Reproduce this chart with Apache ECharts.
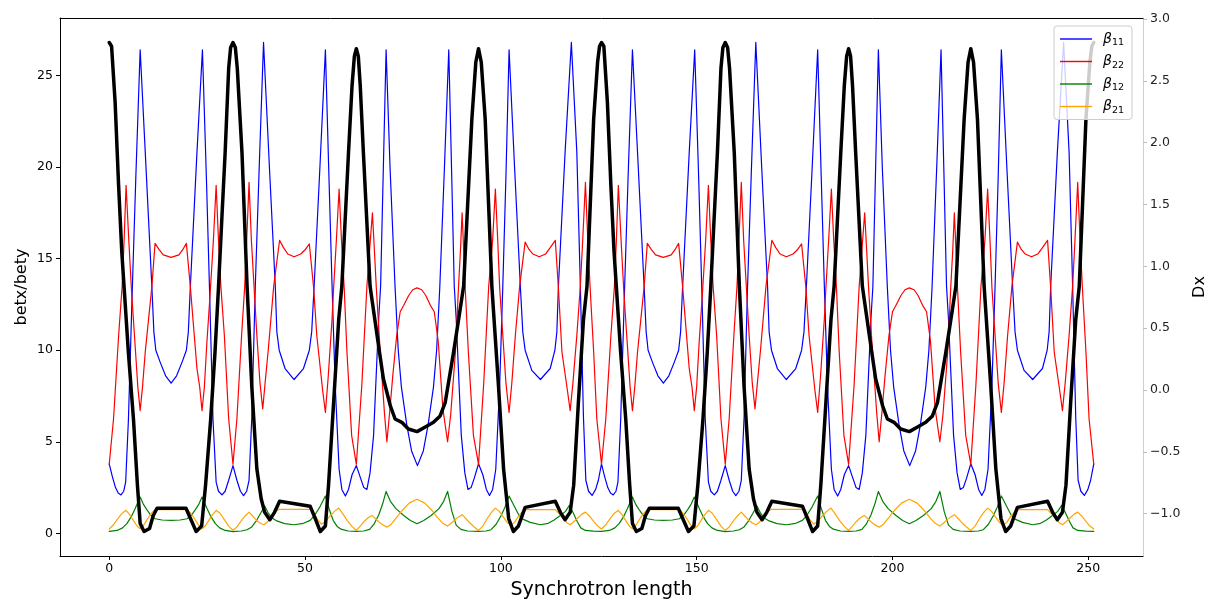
<!DOCTYPE html>
<html>
<head>
<meta charset="utf-8">
<script src="https://cdn.jsdelivr.net/npm/echarts@6/dist/echarts.min.js"></script>
<style>html,body{margin:0;padding:0;background:#fff}#c{width:1207px;height:599px}</style>
</head>
<body>
<div id="c"></div>
<script>
const xTicks = [0, 50, 100, 150, 200, 250];
const yLeftTicks = [0, 5, 10, 15, 20, 25];
const yRightTicks = [-1.0, -0.5, 0.0, 0.5, 1.0, 1.5, 2.0, 2.5, 3.0];
const seriesNames = ['β11', 'β22', 'β12', 'β21'];

const beta11 = [[0,3.8],[0.8,3.1],[1.6,2.5],[2.3,2.2],[3.0,2.1],[3.7,2.3],[4.2,2.8],[4.9,6.2],[5.9,13.4],[6.8,19.5],[7.9,26.4],[9.2,20.8],[10.9,13.4],[11.4,11.0],[11.9,10.0],[13.0,9.35],[14.4,8.6],[15.8,8.2],[17.2,8.6],[18.6,9.35],[19.7,10.0],[20.2,11.0],[20.7,13.4],[22.4,20.8],[23.8,26.4],[24.8,19.5],[25.6,13.4],[26.5,6.2],[27.3,2.8],[27.9,2.3],[28.8,2.1],[29.6,2.3],[30.5,2.9],[31.6,3.7],[32.6,2.9],[33.5,2.3],[34.3,2.06],[35.1,2.3],[35.7,2.9],[36.4,6.3],[37.3,13.5],[38.3,20.0],[39.4,26.8],[40.9,20.0],[42.4,13.5],[42.8,11.0],[43.4,10.0],[44.9,9.0],[47.2,8.4],[49.6,9.0],[51.1,10.0],[51.7,11.0],[52.3,13.4],[53.8,20.0],[55.2,26.4],[56.1,19.5],[56.9,13.5],[57.7,8.1],[58.7,3.5],[59.4,2.4],[60.3,2.04],[61.1,2.4],[62.0,3.2],[63.1,3.7],[64.2,3.0],[65.0,2.5],[65.8,2.4],[66.6,3.3],[67.5,5.35],[68.8,11.7],[69.3,13.5],[70.0,20.0],[70.7,26.4],[71.7,20.0],[73.0,13.4],[73.8,10.0],[74.6,8.0],[76.0,5.9],[77.2,4.5],[78.7,3.7],[80.2,4.5],[81.4,5.9],[82.8,8.0],[83.6,10.0],[84.4,13.4],[85.6,20.0],[86.7,26.4],[87.4,20.0],[88.1,13.5],[88.6,11.7],[89.9,5.35],[90.8,3.3],[91.6,2.4],[92.4,2.5],[93.2,3.0],[94.3,3.8],[95.4,3.2],[96.3,2.4],[97.1,2.07],[97.9,2.4],[98.7,3.5],[99.7,8.1],[100.5,13.5],[101.3,19.5],[102.1,26.4],[103.5,20.0],[105.0,13.4],[105.6,11.0],[106.2,10.0],[107.9,8.9],[110.1,8.4],[112.6,9.0],[113.8,10.0],[114.3,11.0],[114.7,13.5],[116.4,20.8],[118.0,26.8],[119.4,20.8],[120.3,13.5],[121.1,6.3],[121.7,2.9],[122.4,2.3],[123.3,2.07],[124.2,2.4],[124.9,2.9],[125.7,3.8],
[126.5,3.1],[127.3,2.5],[128.0,2.2],[128.7,2.1],[129.4,2.3],[129.9,2.8],[130.6,6.2],[131.6,13.4],[132.5,19.5],[133.6,26.4],[134.9,20.8],[136.6,13.4],[137.1,11.0],[137.6,10.0],[138.7,9.35],[140.1,8.6],[141.5,8.2],[142.9,8.6],[144.3,9.35],[145.4,10.0],[145.9,11.0],[146.4,13.4],[148.1,20.8],[149.5,26.4],[150.5,19.5],[151.3,13.4],[152.2,6.2],[153.0,2.8],[153.6,2.3],[154.5,2.1],[155.3,2.3],[156.2,2.9],[157.3,3.7],[158.3,2.9],[159.2,2.3],[160.0,2.06],[160.8,2.3],[161.4,2.9],[162.1,6.3],[163.0,13.5],[164.0,20.0],[165.1,26.8],[166.6,20.0],[168.1,13.5],[168.5,11.0],[169.1,10.0],[170.6,9.0],[172.9,8.4],[175.3,9.0],[176.8,10.0],[177.4,11.0],[178.0,13.4],[179.5,20.0],[180.9,26.4],[181.8,19.5],[182.6,13.5],[183.4,8.1],[184.4,3.5],[185.1,2.4],[186.0,2.04],[186.8,2.4],[187.7,3.2],[188.8,3.7],[189.9,3.0],[190.7,2.5],[191.5,2.4],[192.3,3.3],[193.2,5.35],[194.5,11.7],[195.0,13.5],[195.7,20.0],[196.4,26.4],[197.4,20.0],[198.7,13.4],[199.5,10.0],[200.3,8.0],[201.7,5.9],[202.9,4.5],[204.4,3.7],[205.9,4.5],[207.1,5.9],[208.5,8.0],[209.3,10.0],[210.1,13.4],[211.3,20.0],[212.4,26.4],[213.1,20.0],[213.8,13.5],[214.3,11.7],[215.6,5.35],[216.5,3.3],[217.3,2.4],[218.1,2.5],[218.9,3.0],[220.0,3.8],[221.1,3.2],[222.0,2.4],[222.8,2.07],[223.6,2.4],[224.4,3.5],[225.4,8.1],[226.2,13.5],[227.0,19.5],[227.8,26.4],[229.2,20.0],[230.7,13.4],[231.3,11.0],[231.9,10.0],[233.6,8.9],[235.8,8.4],[238.3,9.0],[239.5,10.0],[240.0,11.0],[240.4,13.5],[242.1,20.8],[243.7,26.8],[245.1,20.8],[246.0,13.5],[246.8,6.3],[247.4,2.9],[248.1,2.3],[249.0,2.07],[249.9,2.4],[250.6,2.9],[251.4,3.8]];

const beta22 = [[0,3.77],[1.1,6.26],[2.4,10.8],[3.3,13.5],[3.8,16.0],[4.3,19.0],[5.0,16.0],[5.7,13.2],[6.6,10.3],[7.3,8.0],[7.9,6.7],[8.5,8.0],[9.2,9.9],[10.9,13.5],[11.7,15.83],[12.7,15.5],[13.8,15.2],[15.8,15.07],[17.8,15.2],[18.8,15.5],[19.7,15.83],[20.7,13.5],[22.4,9.0],[23.1,8.0],[23.7,6.7],[24.3,8.0],[24.9,10.3],[25.8,13.2],[26.6,16.0],[27.3,19.0],[27.9,16.0],[28.5,13.5],[29.4,10.8],[30.5,6.26],[31.6,3.77],[32.6,6.26],[33.8,10.8],[34.6,13.5],[35.1,16.0],[35.7,19.16],[36.3,16.0],[37.0,13.4],[37.7,10.8],[38.5,8.2],[39.2,6.8],[39.8,8.2],[40.6,10.0],[42.0,13.5],[43.5,16.0],[44.5,15.6],[45.6,15.25],[47.2,15.1],[48.9,15.25],[50.1,15.5],[51.1,15.8],[52.2,13.4],[53.0,10.8],[54.5,7.8],[55.2,6.6],[55.9,8.5],[56.9,11.7],[57.3,13.4],[58.0,16.0],[58.7,18.8],[59.3,16.0],[60.0,13.4],[60.7,9.9],[61.9,5.35],[63.1,3.77],[64.5,8.1],[65.8,13.5],[66.5,15.5],[67.2,17.5],[67.7,15.5],[68.2,13.4],[69.2,9.9],[70.3,6.5],[70.9,5.0],[71.6,6.6],[72.4,8.6],[73.4,10.8],[74.3,12.1],[75.2,12.45],[76.5,13.0],[77.5,13.3],[78.6,13.4],[79.8,13.3],[80.8,13.0],[82.0,12.45],[83.0,12.1],[84.0,10.5],[85.2,6.8],[86.4,5.0],[87.2,6.5],[88.4,9.9],[89.2,13.5],[89.7,15.5],[90.1,17.5],[90.5,15.5],[90.9,13.4],[91.7,9.9],[93.0,5.35],[94.3,3.77],[95.6,8.1],[96.9,13.5],[97.9,16.0],[98.6,18.8],[99.2,16.0],[99.7,13.4],[100.5,10.8],[101.3,8.2],[102.1,6.6],[102.8,8.2],[103.7,10.8],[104.8,13.5],[106.2,15.9],[107.2,15.5],[108.2,15.25],[109.8,15.1],[111.4,15.25],[112.6,15.6],[113.9,16.0],[114.7,13.4],[115.6,9.9],[117.0,7.8],[117.7,6.7],[118.4,8.2],[119.4,10.8],[120.3,13.5],[120.9,16.0],[121.6,19.16],[122.2,16.0],[122.8,13.4],[123.7,9.9],[124.5,6.26],[125.7,3.77],
[126.8,6.26],[128.1,10.8],[129.0,13.5],[129.5,16.0],[130.0,19.0],[130.7,16.0],[131.4,13.2],[132.3,10.3],[133.0,8.0],[133.6,6.7],[134.2,8.0],[134.9,9.9],[136.6,13.5],[137.4,15.83],[138.4,15.5],[139.5,15.2],[141.5,15.07],[143.5,15.2],[144.5,15.5],[145.4,15.83],[146.4,13.5],[148.1,9.0],[148.8,8.0],[149.4,6.7],[150.0,8.0],[150.6,10.3],[151.5,13.2],[152.3,16.0],[153.0,19.0],[153.6,16.0],[154.2,13.5],[155.1,10.8],[156.2,6.26],[157.3,3.77],[158.3,6.26],[159.5,10.8],[160.3,13.5],[160.8,16.0],[161.4,19.16],[162.0,16.0],[162.7,13.4],[163.4,10.8],[164.2,8.2],[164.9,6.8],[165.5,8.2],[166.3,10.0],[167.7,13.5],[169.2,16.0],[170.2,15.6],[171.3,15.25],[172.9,15.1],[174.6,15.25],[175.8,15.5],[176.8,15.8],[177.9,13.4],[178.7,10.8],[180.2,7.8],[180.9,6.6],[181.6,8.5],[182.6,11.7],[183.0,13.4],[183.7,16.0],[184.4,18.8],[185.0,16.0],[185.7,13.4],[186.4,9.9],[187.6,5.35],[188.8,3.77],[190.2,8.1],[191.5,13.5],[192.2,15.5],[192.9,17.5],[193.4,15.5],[193.9,13.4],[194.9,9.9],[196.0,6.5],[196.6,5.0],[197.3,6.6],[198.1,8.6],[199.1,10.8],[200.0,12.1],[200.9,12.45],[202.2,13.0],[203.2,13.3],[204.3,13.4],[205.5,13.3],[206.5,13.0],[207.7,12.45],[208.7,12.1],[209.7,10.5],[210.9,6.8],[212.1,5.0],[212.9,6.5],[214.1,9.9],[214.9,13.5],[215.4,15.5],[215.8,17.5],[216.2,15.5],[216.6,13.4],[217.4,9.9],[218.7,5.35],[220.0,3.77],[221.3,8.1],[222.6,13.5],[223.6,16.0],[224.3,18.8],[224.9,16.0],[225.4,13.4],[226.2,10.8],[227.0,8.2],[227.8,6.6],[228.5,8.2],[229.4,10.8],[230.5,13.5],[231.9,15.9],[232.9,15.5],[233.9,15.25],[235.5,15.1],[237.1,15.25],[238.3,15.6],[239.6,16.0],[240.4,13.4],[241.3,9.9],[242.7,7.8],[243.4,6.7],[244.1,8.2],[245.1,10.8],[246.0,13.5],[246.6,16.0],[247.3,19.16],[247.9,16.0],[248.5,13.4],[249.4,9.9],[250.2,6.26],[251.4,3.77]];

const beta12 = [[0,0.11],[2.0,0.16],[3.4,0.3],[4.5,0.53],[5.6,0.9],[6.6,1.35],[7.9,1.98],[8.7,1.6],[9.6,1.3],[10.6,1.0],[11.7,0.8],[13.5,0.73],[15.8,0.71],[18.1,0.73],[19.9,0.8],[21.0,1.0],[22.0,1.3],[22.9,1.6],[23.7,1.98],[25.0,1.35],[26.0,0.9],[27.1,0.53],[28.2,0.3],[29.6,0.16],[31.6,0.1],[33.7,0.13],[35.2,0.2],[36.4,0.35],[37.6,0.7],[38.8,1.15],[39.7,1.5],[40.5,1.15],[41.5,0.85],[42.8,0.68],[44.8,0.53],[47.2,0.47],[49.6,0.55],[51.3,0.71],[52.5,1.0],[53.8,1.45],[55.2,2.04],[56.2,1.3],[57.2,0.7],[58.2,0.38],[59.2,0.23],[61.0,0.13],[63.1,0.11],[65.0,0.13],[66.5,0.22],[67.6,0.5],[68.8,1.0],[69.8,1.6],[70.7,2.29],[71.8,1.75],[73.2,1.35],[75.2,0.98],[76.9,0.7],[78.6,0.53],[80.3,0.7],[82.2,0.98],[84.2,1.35],[85.4,1.75],[86.4,2.29],[87.5,1.2],[88.6,0.45],[89.8,0.22],[91.5,0.13],[94.3,0.11],[96.2,0.13],[97.5,0.2],[98.8,0.5],[100.0,0.95],[101.0,1.4],[102.1,2.04],[103.5,1.45],[104.6,1.0],[105.6,0.78],[107.5,0.6],[110.1,0.47],[112.1,0.55],[113.5,0.72],[115.0,0.95],[116.5,1.2],[117.5,1.53],[118.4,1.15],[119.5,0.65],[120.4,0.3],[121.6,0.16],[123.6,0.12],[125.7,0.11],
[127.7,0.16],[129.1,0.3],[130.2,0.53],[131.3,0.9],[132.3,1.35],[133.6,1.98],[134.4,1.6],[135.3,1.3],[136.3,1.0],[137.4,0.8],[139.2,0.73],[141.5,0.71],[143.8,0.73],[145.6,0.8],[146.7,1.0],[147.7,1.3],[148.6,1.6],[149.4,1.98],[150.7,1.35],[151.7,0.9],[152.8,0.53],[153.9,0.3],[155.3,0.16],[157.3,0.1],[159.4,0.13],[160.9,0.2],[162.1,0.35],[163.3,0.7],[164.5,1.15],[165.4,1.5],[166.2,1.15],[167.2,0.85],[168.5,0.68],[170.5,0.53],[172.9,0.47],[175.3,0.55],[177.0,0.71],[178.2,1.0],[179.5,1.45],[180.9,2.04],[181.9,1.3],[182.9,0.7],[183.9,0.38],[184.9,0.23],[186.7,0.13],[188.8,0.11],[190.7,0.13],[192.2,0.22],[193.3,0.5],[194.5,1.0],[195.5,1.6],[196.4,2.29],[197.5,1.75],[198.9,1.35],[200.9,0.98],[202.6,0.7],[204.3,0.53],[206.0,0.7],[207.9,0.98],[209.9,1.35],[211.1,1.75],[212.1,2.29],[213.2,1.2],[214.3,0.45],[215.5,0.22],[217.2,0.13],[220.0,0.11],[221.9,0.13],[223.2,0.2],[224.5,0.5],[225.7,0.95],[226.7,1.4],[227.8,2.04],[229.2,1.45],[230.3,1.0],[231.3,0.78],[233.2,0.6],[235.8,0.47],[237.8,0.55],[239.2,0.72],[240.7,0.95],[242.2,1.2],[243.2,1.53],[244.1,1.15],[245.2,0.65],[246.1,0.3],[247.3,0.16],[249.3,0.12],[251.4,0.11]];

const beta21 = [[0,0.24],[1.2,0.5],[2.2,0.8],[3.3,1.1],[4.3,1.26],[5.3,1.0],[6.2,0.7],[7.1,0.4],[7.9,0.25],[8.8,0.45],[9.8,0.8],[10.8,1.1],[11.7,1.3],[19.9,1.3],[20.8,1.1],[21.8,0.8],[22.8,0.45],[23.7,0.25],[24.5,0.4],[25.4,0.7],[26.3,1.0],[27.3,1.26],[28.3,1.1],[29.4,0.75],[30.5,0.4],[31.6,0.16],[32.6,0.35],[33.6,0.65],[34.7,0.95],[35.7,1.16],[36.6,0.95],[37.6,0.72],[38.6,0.55],[39.5,0.47],[40.5,0.65],[41.5,0.95],[42.5,1.2],[43.3,1.31],[51.5,1.31],[52.3,1.1],[53.2,0.75],[54.2,0.5],[55.2,0.65],[56.4,0.95],[57.5,1.2],[58.6,1.38],[59.7,1.05],[60.8,0.7],[62.0,0.38],[63.1,0.16],[64.1,0.4],[65.1,0.65],[66.1,0.85],[67.1,0.98],[68.0,0.8],[69.0,0.6],[70.0,0.45],[70.9,0.34],[72.0,0.5],[73.3,0.85],[74.8,1.25],[76.6,1.65],[78.6,1.86],[80.6,1.65],[82.4,1.25],[83.9,0.85],[85.2,0.55],[86.4,0.4],[87.3,0.55],[88.3,0.75],[89.2,0.9],[90.1,1.02],[91.1,0.8],[92.2,0.55],[93.2,0.35],[94.3,0.16],[95.4,0.4],[96.5,0.8],[97.6,1.15],[98.6,1.38],[99.6,1.2],[100.6,0.9],[101.6,0.6],[102.6,0.45],[103.5,0.6],[104.4,0.9],[105.3,1.15],[106.0,1.3],[113.9,1.3],[114.8,1.1],[115.8,0.85],[116.8,0.6],[117.7,0.47],[118.7,0.65],[119.7,0.85],[120.7,1.05],[121.6,1.16],[122.6,0.95],[123.7,0.65],[124.7,0.4],[125.7,0.24],
[126.9,0.5],[127.9,0.8],[129.0,1.1],[130.0,1.26],[131.0,1.0],[131.9,0.7],[132.8,0.4],[133.6,0.25],[134.5,0.45],[135.5,0.8],[136.5,1.1],[137.4,1.3],[145.6,1.3],[146.5,1.1],[147.5,0.8],[148.5,0.45],[149.4,0.25],[150.2,0.4],[151.1,0.7],[152.0,1.0],[153.0,1.26],[154.0,1.1],[155.1,0.75],[156.2,0.4],[157.3,0.16],[158.3,0.35],[159.3,0.65],[160.4,0.95],[161.4,1.16],[162.3,0.95],[163.3,0.72],[164.3,0.55],[165.2,0.47],[166.2,0.65],[167.2,0.95],[168.2,1.2],[169.0,1.31],[177.2,1.31],[178.0,1.1],[178.9,0.75],[179.9,0.5],[180.9,0.65],[182.1,0.95],[183.2,1.2],[184.3,1.38],[185.4,1.05],[186.5,0.7],[187.7,0.38],[188.8,0.16],[189.8,0.4],[190.8,0.65],[191.8,0.85],[192.8,0.98],[193.7,0.8],[194.7,0.6],[195.7,0.45],[196.6,0.34],[197.7,0.5],[199.0,0.85],[200.5,1.25],[202.3,1.65],[204.3,1.86],[206.3,1.65],[208.1,1.25],[209.6,0.85],[210.9,0.55],[212.1,0.4],[213.0,0.55],[214.0,0.75],[214.9,0.9],[215.8,1.02],[216.8,0.8],[217.9,0.55],[218.9,0.35],[220.0,0.16],[221.1,0.4],[222.2,0.8],[223.3,1.15],[224.3,1.38],[225.3,1.2],[226.3,0.9],[227.3,0.6],[228.3,0.45],[229.2,0.6],[230.1,0.9],[231.0,1.15],[231.7,1.3],[239.6,1.3],[240.5,1.1],[241.5,0.85],[242.5,0.6],[243.4,0.47],[244.4,0.65],[245.4,0.85],[246.4,1.05],[247.3,1.16],[248.3,0.95],[249.4,0.65],[250.4,0.4],[251.4,0.24]];

const dx = [[0,2.81],[0.6,2.78],[1.5,2.33],[2.4,1.65],[3.2,1.12],[3.8,0.83],[4.9,0.30],[6.2,-0.24],[7.2,-0.77],[7.9,-1.08],[8.9,-1.145],[10.3,-1.12],[11.2,-1.02],[12.2,-0.957],[19.6,-0.957],[20.6,-1.03],[22.2,-1.145],[23.6,-1.10],[24.6,-0.77],[25.9,-0.24],[27.0,0.30],[27.9,0.83],[28.7,1.35],[29.6,1.92],[30.5,2.6],[31.0,2.77],[31.6,2.81],[32.2,2.77],[32.7,2.6],[33.9,1.92],[35.2,0.84],[36.4,0.03],[37.7,-0.64],[38.8,-0.88],[39.7,-0.99],[41.0,-1.05],[42.2,-0.99],[43.5,-0.90],[51.3,-0.94],[52.6,-1.04],[53.9,-1.145],[55.2,-1.10],[56.0,-0.77],[57.3,-0.10],[58.6,0.57],[59.4,0.84],[61.1,1.92],[62.0,2.46],[62.6,2.70],[63.1,2.76],[63.6,2.70],[64.1,2.46],[64.9,1.92],[66.6,0.84],[68.4,0.44],[70.0,0.09],[71.8,-0.13],[73.0,-0.235],[74.7,-0.262],[76.4,-0.316],[78.6,-0.337],[80.7,-0.30],[82.8,-0.262],[84.5,-0.21],[85.8,-0.10],[87.9,0.30],[89.6,0.65],[90.5,0.84],[92.6,2.19],[93.6,2.65],[94.3,2.76],[95.0,2.65],[96.0,2.19],[97.7,0.84],[99.4,0.03],[100.7,-0.64],[102.0,-1.04],[103.2,-1.145],[104.5,-1.10],[106.2,-0.95],[113.9,-0.90],[115.2,-0.99],[116.4,-1.05],[117.7,-0.99],[118.6,-0.77],[119.8,-0.10],[121.1,0.57],[122.0,0.84],[123.7,2.19],[124.7,2.65],[125.2,2.78],[125.7,2.81],
[126.3,2.78],[127.2,2.33],[128.1,1.65],[128.9,1.12],[129.5,0.83],[130.6,0.30],[131.9,-0.24],[132.9,-0.77],[133.6,-1.08],[134.6,-1.145],[136.0,-1.12],[136.9,-1.02],[137.9,-0.957],[145.3,-0.957],[146.3,-1.03],[147.9,-1.145],[149.3,-1.10],[150.3,-0.77],[151.6,-0.24],[152.7,0.30],[153.6,0.83],[154.4,1.35],[155.3,1.92],[156.2,2.6],[156.7,2.77],[157.3,2.81],[157.9,2.77],[158.4,2.6],[159.6,1.92],[160.9,0.84],[162.1,0.03],[163.4,-0.64],[164.5,-0.88],[165.4,-0.99],[166.7,-1.05],[167.9,-0.99],[169.2,-0.90],[177.0,-0.94],[178.3,-1.04],[179.6,-1.145],[180.9,-1.10],[181.7,-0.77],[183.0,-0.10],[184.3,0.57],[185.1,0.84],[186.8,1.92],[187.7,2.46],[188.3,2.70],[188.8,2.76],[189.3,2.70],[189.8,2.46],[190.6,1.92],[192.3,0.84],[194.1,0.44],[195.7,0.09],[197.5,-0.13],[198.7,-0.235],[200.4,-0.262],[202.1,-0.316],[204.3,-0.337],[206.4,-0.30],[208.5,-0.262],[210.2,-0.21],[211.5,-0.10],[213.6,0.30],[215.3,0.65],[216.2,0.84],[218.3,2.19],[219.3,2.65],[220.0,2.76],[220.7,2.65],[221.7,2.19],[223.4,0.84],[225.1,0.03],[226.4,-0.64],[227.7,-1.04],[228.9,-1.145],[230.2,-1.10],[231.9,-0.95],[239.6,-0.90],[240.9,-0.99],[242.1,-1.05],[243.4,-0.99],[244.3,-0.77],[245.5,-0.10],[246.8,0.57],[247.7,0.84],[249.4,2.19],[250.4,2.65],[250.9,2.78],[251.4,2.81]];

const FONT = 'DejaVu Sans';
const chart = echarts.init(document.getElementById('c'), null, {renderer: 'canvas'});

function lineSeries(name, data, color, width, yIndex) {
  return {
    name: name, type: 'line', data: data, xAxisIndex: 0, yAxisIndex: yIndex,
    symbol: 'none', showSymbol: false, smooth: false, animation: false,
    lineStyle: {color: color, width: width, join: 'round', cap: 'round'}, itemStyle: {color: color},
    emphasis: {disabled: true}
  };
}

const option = {
  animation: false,
  backgroundColor: '#ffffff',
  grid: {left: 60, right: 64, top: 18, bottom: 43, containLabel: false, outerBoundsMode: 'none'},
  legend: {
    show: true, orient: 'vertical', left: 1054, top: 26, z: 10,
    data: seriesNames, icon: 'rect', itemWidth: 32, itemHeight: 1.4, itemGap: 4.5,
    padding: [4, 8, 4, 6],
    backgroundColor: 'rgba(255,255,255,0.8)', borderColor: '#cccccc', borderWidth: 1, borderRadius: 3,
    formatter: function (n) { return '{g|β}{s|' + n.slice(1) + '}'; },
    textStyle: {
      rich: {
        g: {fontFamily: FONT, fontStyle: 'italic', fontSize: 14, lineHeight: 20, color: '#000', padding: [0, 0, 0, 6]},
        s: {fontFamily: FONT, fontSize: 9.5, lineHeight: 20, color: '#000', padding: [8, 0, 0, 0]}
      }
    }
  },
  xAxis: [{
    type: 'value', min: -12.57, max: 263.97, position: 'bottom',
    name: 'Synchrotron length', nameLocation: 'middle', nameGap: 25, nameMoveOverlap: false,
    nameTextStyle: {fontFamily: FONT, fontSize: 19, color: '#000'},
    axisLine: {show: true, onZero: false, lineStyle: {color: '#000', width: 1}},
    axisTick: {show: true, inside: false, length: 4, customValues: xTicks, lineStyle: {color: '#000', width: 1}},
    axisLabel: {show: true, margin: 6, customValues: xTicks, fontFamily: FONT, fontSize: 12.5, color: '#000',
      formatter: function (v) { return String(Math.round(v)); }},
    splitLine: {show: false}
  }, {
    type: 'value', min: -12.57, max: 263.97, position: 'top',
    axisLine: {show: true, onZero: false, lineStyle: {color: '#000', width: 1}},
    axisTick: {show: false}, axisLabel: {show: false}, splitLine: {show: false}
  }],
  yAxis: [{
    type: 'value', min: -1.235, max: 28.135, position: 'left',
    name: 'betx/bety', nameLocation: 'middle', nameGap: 30, nameRotate: 90, nameMoveOverlap: false,
    nameTextStyle: {fontFamily: FONT, fontSize: 16, color: '#000'},
    axisLine: {show: true, onZero: false, lineStyle: {color: '#000', width: 1}},
    axisTick: {show: true, inside: false, length: 4, customValues: yLeftTicks, lineStyle: {color: '#000', width: 1}},
    axisLabel: {show: true, margin: 7, customValues: yLeftTicks, fontFamily: FONT, fontSize: 12.5, color: '#000',
      formatter: function (v) { return String(Math.round(v)); }},
    splitLine: {show: false}
  }, {
    type: 'value', min: -1.343, max: 3.008, position: 'right',
    name: 'Dx', nameLocation: 'middle', nameGap: 49, nameRotate: 90,
    nameTextStyle: {fontFamily: FONT, fontSize: 16, color: '#000'},
    axisLine: {show: true, onZero: false, lineStyle: {color: '#cfcfcf', width: 1}},
    axisTick: {show: true, inside: false, length: 4, customValues: yRightTicks, lineStyle: {color: '#bdbdbd', width: 1}},
    axisLabel: {show: true, margin: 7, customValues: yRightTicks, fontFamily: FONT, fontSize: 12.5, color: '#222',
      formatter: function (v) { return v.toFixed(1).replace('-', '\u2212'); }},
    splitLine: {show: false}
  }],
  series: [
    lineSeries('β11', beta11, '#0000ff', 1.2, 0),
    lineSeries('β22', beta22, '#ff0000', 1.2, 0),
    lineSeries('β12', beta12, '#008000', 1.2, 0),
    lineSeries('β21', beta21, '#ffa500', 1.2, 0),
    lineSeries('Dx', dx, '#000000', 3.5, 1)
  ]
};
chart.setOption(option);
</script>
</body>
</html>
